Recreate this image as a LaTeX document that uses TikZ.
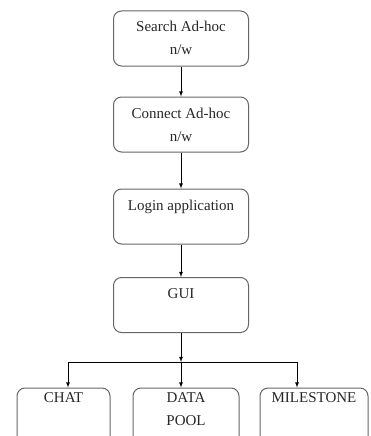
\documentclass[tikz,border=0pt]{standalone}
\usepackage{fontspec}
\setmainfont{Liberation Serif}
\usepackage{tikz}
\usetikzlibrary{positioning}

\tikzset{
    stage/.style={draw=black!60, line width=1pt, rounded corners=8pt,
        minimum width=135pt, inner sep=0pt, align=center,
        text height=21pt, text depth=34pt, text=black!85,
        font=\fontsize{15}{23}\selectfont},
    twoline/.style={stage, text height=44pt, text depth=11pt},
    leaf/.style={stage, text height=14pt, text depth=50pt},
}

\begin{document}
\begin{tikzpicture}[x=1pt, y=-1pt, >=latex]
    \clip (0,0) rectangle (370,436);
    \node[twoline] (search)  at (181, 38.5)  {Search Ad-hoc\\n/w};
    \node[twoline] (connect) at (181, 124.5) {Connect Ad-hoc\\n/w};
    \node[stage] (login)   at (181, 216.5) {Login application};
    \node[stage] (gui)     at (181, 305)   {GUI};
    \node[leaf, minimum width=93pt]  (chat) at (63.5, 420) {CHAT};
    \node[leaf, minimum width=106pt, text height=37pt, text depth=27pt]
        (pool) at (186, 420) {DATA\\POOL};
    \node[leaf, minimum width=108pt] (mile) at (314, 420)  {MILESTONE};
    \draw[->, thick]
        (search)  edge (connect)
        (connect) edge (login)
        (login)   edge (gui);
    % split below the GUI box
    \coordinate (split) at (181, 362);
    \draw[->, thick] (gui) -- (split);
    \draw[->, thick] (split) -| ([xshift=4.5pt]chat.north);
    \draw[->, thick] (split) -- (pool.north -| split);
    \draw[->, thick] (split) -| ([xshift=-17pt]mile.north);
\end{tikzpicture}
\end{document}
